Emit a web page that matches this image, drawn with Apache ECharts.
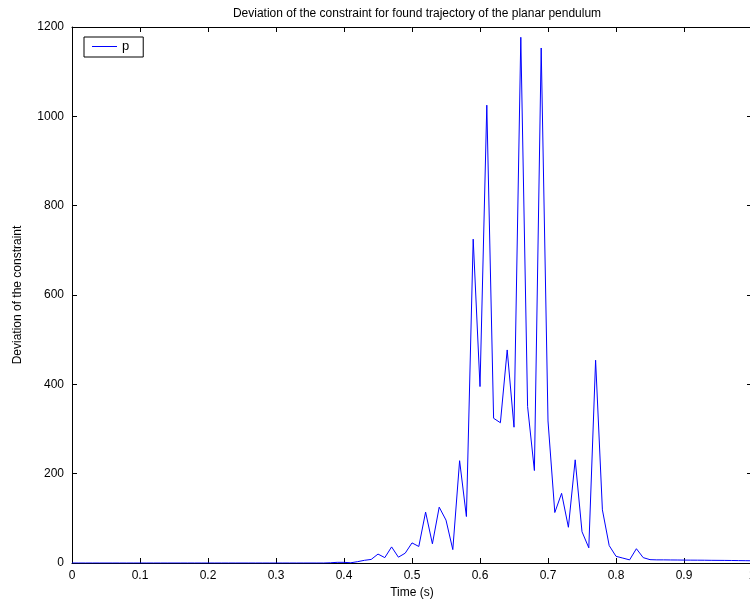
<!DOCTYPE html>
<html>
<head>
<meta charset="utf-8">
<script src="https://cdn.jsdelivr.net/npm/echarts@6/dist/echarts.min.js"></script>
<style>html,body{margin:0;padding:0;background:#fff;}#c{width:750px;height:606px;}</style>
</head>
<body>
<div id="c"></div>
<script>
const titleText = 'Deviation of the constraint for found trajectory of the planar pendulum';
const xName = 'Time (s)';
const yName = 'Deviation of the constraint';
const seriesName = 'p';
const xTicks = [0, 0.1, 0.2, 0.3, 0.4, 0.5, 0.6, 0.7, 0.8, 0.9, 1];
const yTicks = [0, 200, 400, 600, 800, 1000, 1200];
const times = [0.00,0.01,0.02,0.03,0.04,0.05,0.06,0.07,0.08,0.09,
  0.10,0.11,0.12,0.13,0.14,0.15,0.16,0.17,0.18,0.19,
  0.20,0.21,0.22,0.23,0.24,0.25,0.26,0.27,0.28,0.29,
  0.30,0.31,0.32,0.33,0.34,0.35,0.36,0.37,0.38,0.39,
  0.40,0.41,0.42,0.43,0.44,0.45,0.46,0.47,0.48,0.49,
  0.50,0.51,0.52,0.53,0.54,0.55,0.56,0.57,0.58,0.59,
  0.60,0.61,0.62,0.63,0.64,0.65,0.66,0.67,0.68,0.69,
  0.70,0.71,0.72,0.73,0.74,0.75,0.76,0.77,0.78,0.79,
  0.80,0.81,0.82,0.83,0.84,0.85,0.86,0.87,0.88,0.89,
  0.90,0.91,0.92,0.93,0.94,0.95,0.96,0.97,0.98,0.99,1.00];
const deviation = [0,0,0,0,0,0,0,0,0,0,
  0,0,0,0,0,0,0,0,0,0,
  0,0,0,0,0,0,0,0,0,0,
  0,0,0,0,0,0,0,0,0.5,1.5,
  1.5,0.5,3,6,8,20,12,36,13,22,
  45,37,114,43,125,96,30,229,104,725,
  395,1025,324,314,477,304,1177,350,207,1153,
  318,113,156,80,231,70,34,454,119,39,
  15,11,7,32,12,7.5,7,7,6.8,6.7,
  6.5,6.4,6.3,6.2,6,5.9,5.8,5.6,5.4,5.2,5];

const font = 'Liberation Sans, Arial, Helvetica, sans-serif';
const chart = echarts.init(document.getElementById('c'), null, {renderer: 'canvas'});
const axisBase = {
  axisLine: {show: true, onZero: false, lineStyle: {color: '#000', width: 1}},
  axisTick: {show: true, inside: true, length: 5, lineStyle: {color: '#000', width: 1}},
  splitLine: {show: false}
};
chart.setOption({
  animation: false,
  backgroundColor: '#fff',
  color: ['#0000ff'],
  title: {
    text: titleText, left: 412, textAlign: 'center', top: 3,
    textStyle: {fontFamily: font, fontSize: 12, fontWeight: 'normal', color: '#000'}
  },
  legend: {
    show: true, left: 84, top: 37,
    data: [{name: seriesName, icon: 'rect', itemStyle: {color: '#0000ff'}}],
    itemWidth: 25, itemHeight: 1, itemGap: 5,
    borderColor: '#000', borderWidth: 1, borderRadius: 0,
    padding: [3, 14, 4, 8],
    textStyle: {fontFamily: font, fontSize: 13, color: '#000'}
  },
  grid: {left: 72, top: 27, width: 680, height: 536, containLabel: false, outerBoundsMode: 'none'},
  xAxis: [
    Object.assign({}, axisBase, {
      type: 'value', min: 0, max: 1, interval: 0.1, position: 'bottom',
      name: xName, nameLocation: 'middle', nameGap: 22,
      nameTextStyle: {fontFamily: font, fontSize: 12, color: '#000'},
      axisLabel: {show: true, margin: 7, fontFamily: font, fontSize: 12, color: '#000',
        formatter: v => { const r = Math.round(v * 10) / 10; return xTicks.indexOf(r) >= 0 ? String(r) : ''; }}
    }),
    Object.assign({}, axisBase, {
      type: 'value', min: 0, max: 1, interval: 0.1, position: 'top',
      axisLabel: {show: false}
    })
  ],
  yAxis: [
    Object.assign({}, axisBase, {
      type: 'value', min: 0, max: 1200, interval: 200, position: 'left',
      name: yName, nameLocation: 'middle', nameGap: 48,
      nameTextStyle: {fontFamily: font, fontSize: 12, color: '#000'},
      axisLabel: {show: true, margin: 8, fontFamily: font, fontSize: 12, color: '#000',
        formatter: v => yTicks.indexOf(v) >= 0 ? String(v) : ''}
    }),
    Object.assign({}, axisBase, {
      type: 'value', min: 0, max: 1200, interval: 200, position: 'right',
      axisLabel: {show: false}
    })
  ],
  series: [{
    name: seriesName, type: 'line', xAxisIndex: 0, yAxisIndex: 0,
    data: times.map((t, i) => [t, deviation[i]]),
    showSymbol: false, symbol: 'none',
    color: '#0000ff',
    lineStyle: {color: '#0000ff', width: 1},
    itemStyle: {color: '#0000ff'},
    z: 1
  }]
});
</script>
</body>
</html>
